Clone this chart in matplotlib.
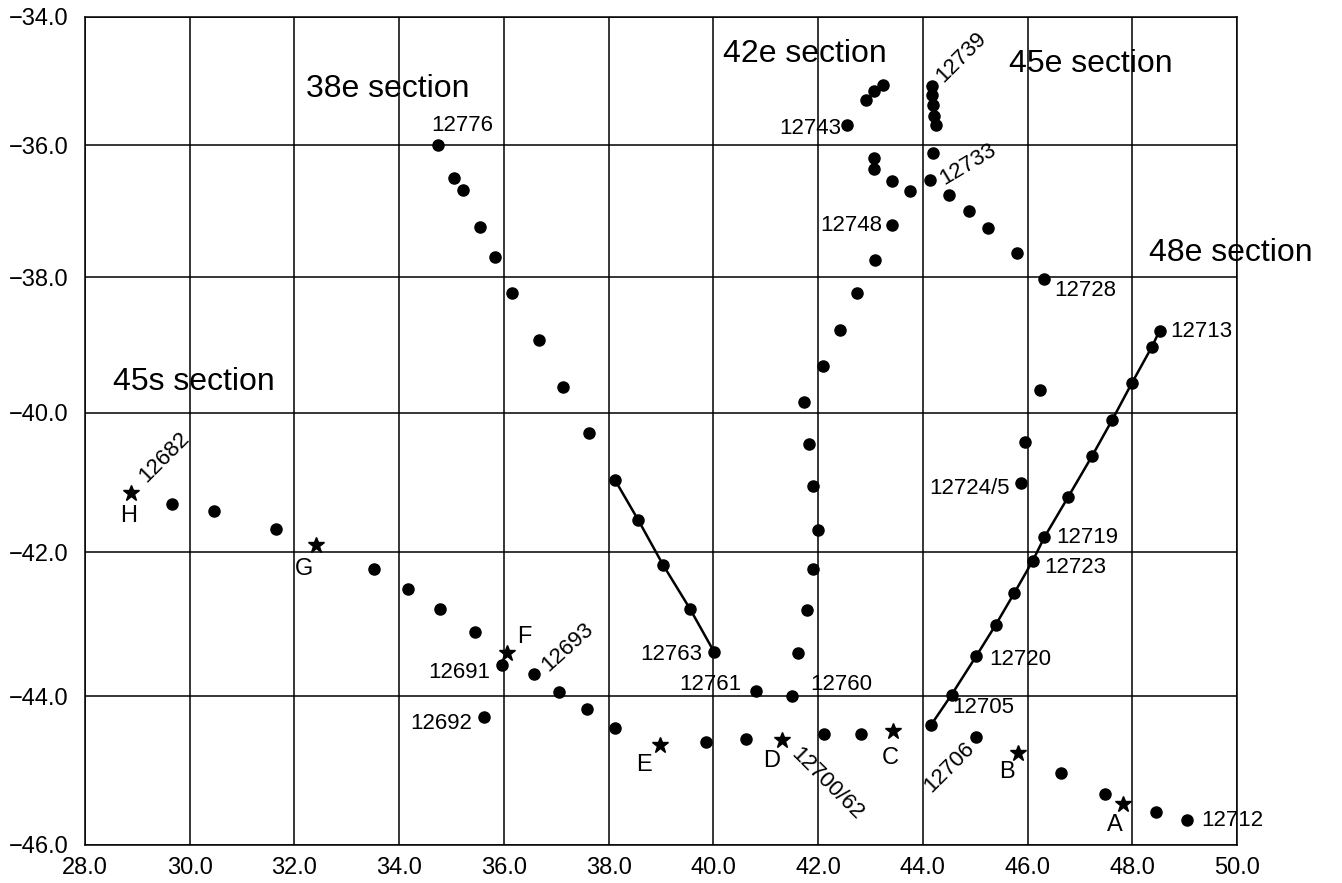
import numpy as np
import matplotlib
matplotlib.use("Agg")
import matplotlib.pyplot as plt

plt.rcParams['font.family'] = ['Liberation Sans', 'DejaVu Sans']

# 38e section (lon, lat), solid line joins the last five casts
s38_lon = [34.74, 35.05, 35.22, 35.54, 35.83, 36.16, 36.67, 37.13, 37.63, 38.12, 38.57, 39.04, 39.55, 40.02]
s38_lat = [-36.00, -36.50, -36.68, -37.24, -37.70, -38.24, -38.94, -39.62, -40.30, -40.97, -41.55, -42.18, -42.79, -43.40]

# 42e section
s42_lon = [40.81, 41.51, 41.61, 41.78, 41.91, 41.99, 41.91, 41.83, 41.73, 42.09, 42.42, 42.74, 43.09, 43.41,
           43.07, 43.07, 43.41, 43.76, 42.56, 42.91, 43.07, 43.24]
s42_lat = [-43.93, -44.00, -43.41, -42.81, -42.23, -41.68, -41.06, -40.45, -39.85, -39.31, -38.78, -38.24, -37.74, -37.22,
           -36.36, -36.19, -36.54, -36.69, -35.69, -35.29, -35.16, -35.06]

# 45e section
s45_lon = [44.18, 44.18, 44.19, 44.22, 44.25, 44.19, 44.14, 44.50, 44.88, 45.25, 45.80, 46.32, 46.23, 45.95, 45.88]
s45_lat = [-35.08, -35.22, -35.37, -35.54, -35.69, -36.12, -36.53, -36.76, -37.00, -37.26, -37.64, -38.03, -39.67, -40.43, -41.02]

# 48e section (line)
s48_lon = [48.52, 48.37, 47.99, 47.62, 47.23, 46.78, 46.32, 46.10, 45.75, 45.39, 45.02, 44.55, 44.16]
s48_lat = [-38.80, -39.04, -39.57, -40.10, -40.63, -41.21, -41.79, -42.12, -42.57, -43.02, -43.45, -43.98, -44.39]

# 45s section
s45s_lon = [29.67, 30.46, 31.64, 33.52, 34.16, 34.78, 35.44, 35.97, 35.62, 36.58, 37.06, 37.59, 38.13,
            39.85, 40.62, 42.12, 42.81, 45.02, 46.64, 47.48, 48.45, 49.04]
s45s_lat = [-41.31, -41.42, -41.67, -42.23, -42.52, -42.80, -43.11, -43.57, -44.28, -43.69, -43.94, -44.17, -44.44,
            -44.63, -44.58, -44.52, -44.51, -44.56, -45.04, -45.32, -45.56, -45.67]

# stations
stn_name = ['H', 'G', 'F', 'E', 'D', 'C', 'B', 'A']
stn_lon = [28.88, 32.42, 36.05, 38.99, 41.31, 43.44, 45.81, 47.82]
stn_lat = [-41.16, -41.90, -43.41, -44.66, -44.59, -44.47, -44.77, -45.45]

# cast numbers
lab_text = ['12776', '12743', '12748', '12739', '12733', '12728', '12713', '12724/5', '12719', '12723',
            '12720', '12705', '12706', '12700/62', '12682', '12693', '12691', '12692', '12763', '12761',
            '12760', '12712']
lab_lon = [34.74, 42.56, 43.41, 44.18, 44.14, 46.32, 48.52, 45.88, 46.32, 46.10,
           45.02, 44.55, 45.02, 41.31, 28.88, 36.58, 35.97, 35.62, 40.02, 40.81,
           41.51, 49.04]
lab_lat = [-36.00, -35.69, -37.22, -35.08, -36.53, -38.03, -38.80, -41.02, -41.79, -42.12,
           -43.45, -43.98, -44.56, -44.59, -41.16, -43.69, -43.57, -44.28, -43.40, -43.93,
           -44.00, -45.67]
# (dx, dy in pixels, ha, rotation)
lab_style = [(-7, 20, 'left', 0), (-6, -3, 'right', 0), (-10, 0, 'right', 0), (29, 29, 'center', 45),
             (38, 16, 'center', 31), (10, -11, 'left', 0), (11, 0, 'left', 0), (-12, -5, 'right', 0),
             (12, 0, 'left', 0), (11, -7, 'left', 0), (13, -3, 'left', 0), (1, -13, 'left', 0),
             (-27, -30, 'center', 45), (45, -44, 'center', -45), (33, 36, 'center', 45), (33, 26, 'center', 42),
             (-12, -8, 'right', 0), (-12, -7, 'right', 0), (-12, -2, 'right', 0), (-14, 7, 'right', 0),
             (18, 12, 'left', 0), (15, 0, 'left', 0)]
stn_off = [(-2, -23), (-12, -24), (18, 16), (-16, -20), (-10, -21), (-3, -27), (-11, -19), (-8, -21)]


def merc(lat):
    return np.log(np.tan(np.pi / 4 + np.radians(lat) / 2))


def merc_inv(y):
    return np.degrees(2 * np.arctan(np.exp(y)) - np.pi / 2)


fig = plt.figure(figsize=(13.42, 8.83), dpi=100)
ax = fig.add_axes([85 / 1342, 38 / 883, 1152 / 1342, 828 / 883])
ax.set_yscale('function', functions=(merc, merc_inv))
ax.set_xlim(28, 50)
ax.set_ylim(-46, -34)

xt = np.arange(28, 51, 2)
yt = np.arange(-46, -33, 2)
ax.set_xticks(xt)
ax.set_yticks(yt)
ax.set_xticklabels(['%.1f' % v for v in xt])
ax.set_yticklabels(['\u2212%.1f' % -v for v in yt])
ax.tick_params(length=0, labelsize=17, pad=9)
ax.tick_params(axis='y', pad=12)
ax.minorticks_off()
ax.grid(True, color='black', linewidth=1.1)
ax.set_axisbelow(True)
for sp in ax.spines.values():
    sp.set_linewidth(1.1)

dot = dict(marker='o', color='black', markersize=8, linestyle='none')
ax.plot(s38_lon, s38_lat, **dot)
ax.plot(s38_lon[9:], s38_lat[9:], color='black', linewidth=1.8)
ax.plot(s42_lon, s42_lat, **dot)
ax.plot(s45_lon, s45_lat, **dot)
ax.plot(s48_lon, s48_lat, color='black', linewidth=1.8, marker='o', markersize=8)
ax.plot(s45s_lon, s45s_lat, **dot)
ax.plot(stn_lon, stn_lat, marker='*', color='black', markersize=12, linestyle='none')

for t, x, y, (dx, dy, ha, rot) in zip(lab_text, lab_lon, lab_lat, lab_style):
    ax.annotate(t, (x, y), xytext=(dx, dy), textcoords='offset pixels', ha=ha, va='center',
                rotation=rot, rotation_mode='anchor', fontsize=16)

for t, x, y, (dx, dy) in zip(stn_name, stn_lon, stn_lat, stn_off):
    ax.annotate(t, (x, y), xytext=(dx, dy), textcoords='offset pixels', ha='center', va='center',
                fontsize=17)

sec = dict(fontsize=23, ha='left', va='center')
ax.text(32.22, -35.12, '38e section', **sec)
ax.text(40.19, -34.58, '42e section', **sec)
ax.text(45.64, -34.74, '45e section', **sec)
ax.text(48.32, -37.64, '48e section', clip_on=False, **sec)
ax.text(28.53, -39.55, '45s section', **sec)

fig.savefig('out.png', dpi=100)
